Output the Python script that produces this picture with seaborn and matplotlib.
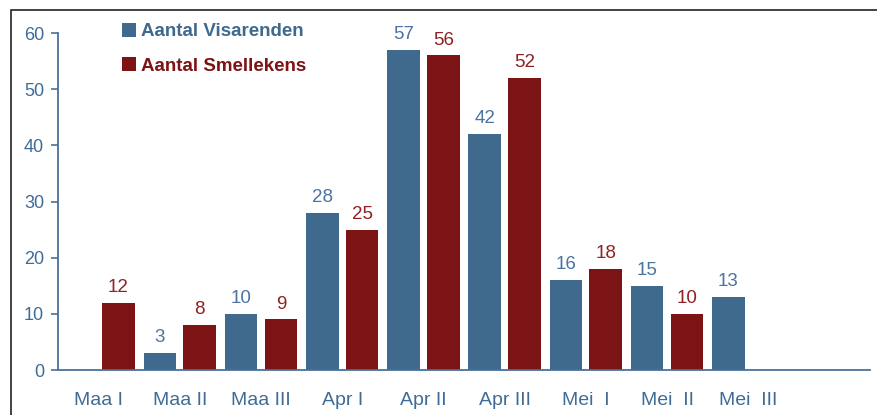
import matplotlib
matplotlib.use('Agg')
import numpy as np
import pandas as pd
import seaborn as sns
import matplotlib.pyplot as plt
from matplotlib.patches import Rectangle

sns.set_style('white')
plt.rcParams['font.family'] = ['Liberation Sans', 'DejaVu Sans']

# gegevens per decade
periodes = ['Maa I', 'Maa II', 'Maa III', 'Apr I', 'Apr II', 'Apr III',
            'Mei  I', 'Mei  II', 'Mei  III', ' ']
visarenden = [np.nan, 3, 10, 28, 57, 42, 16, 15, 13, np.nan]
smellekens = [12, 8, 9, 25, 56, 52, 18, 10, np.nan, np.nan]
reeksen = ['Aantal Visarenden', 'Aantal Smellekens']

blauw = '#3F6A8E'
rood = '#7C1315'
as_kleur = '#4A7299'

df = pd.DataFrame({
    'periode': periodes * 2,
    'aantal': visarenden + smellekens,
    'soort': [reeksen[0]] * len(periodes) + [reeksen[1]] * len(periodes),
})

fig = plt.figure(figsize=(8.77, 4.15), dpi=100)
ax = fig.add_axes([58 / 877, 45 / 415, 812 / 877, 337 / 415])

sns.barplot(data=df, x='periode', y='aantal', hue='soort', order=periodes,
            hue_order=reeksen, palette=[blauw, rood], width=0.98, gap=0.18,
            saturation=1, linewidth=0, ax=ax, legend=True)

# waarden boven de staven
for cont, kleur in zip(ax.containers, ['#4B74A0', '#8E2224']):
    ax.bar_label(cont, fmt='%d', padding=5, color=kleur, fontsize=13.5)

ax.set_ylim(0, 60)
ax.set_xlim(-0.5, len(periodes) - 0.5)
ax.set_yticks(range(0, 61, 10))
ax.set_xlabel('')
ax.set_ylabel('')

sns.despine(ax=ax)
for s in ['left', 'bottom']:
    ax.spines[s].set_color(as_kleur)
    ax.spines[s].set_linewidth(1.3)

ax.tick_params(axis='x', which='major', length=0, pad=16, labelsize=14,
               labelcolor='#3F6C97')
ax.set_xticks(np.arange(0.5, len(periodes), 1), minor=True)
ax.tick_params(axis='x', which='minor', direction='in', length=5,
               color=as_kleur, width=1.2)
ax.tick_params(axis='y', direction='out', length=5, color=as_kleur, width=1.2,
               labelsize=13, labelcolor='#3F6C97', pad=5, left=True)

leg = ax.legend(loc='upper left', bbox_to_anchor=(0.058, 1.08), frameon=False,
                prop={'weight': 'bold', 'size': 13.5}, handlelength=0.75,
                handleheight=0.75, handletextpad=0.25, labelspacing=0.9)
for txt, kleur in zip(leg.get_texts(), [blauw, rood]):
    txt.set_color(kleur)

# kader rond de afbeelding
fig.patches.append(Rectangle((11 / 877, -0.1), 1.2, (405 / 415) + 0.1,
                             transform=fig.transFigure, fill=False,
                             edgecolor='#222222', linewidth=1.2))

fig.savefig('out.png', dpi=100)
